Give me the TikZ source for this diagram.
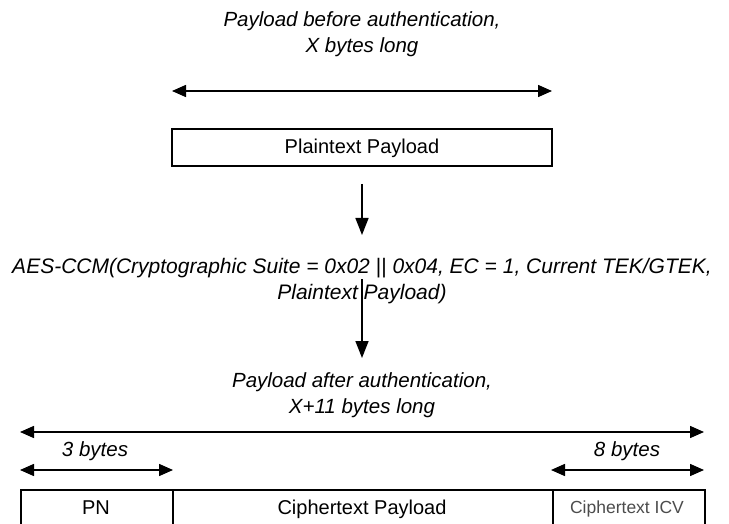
\documentclass[tikz,border=0pt]{standalone}
\usepackage{fontspec}
\setmainfont{Liberation Sans}
\usetikzlibrary{arrows.meta}
\begin{document}
\begin{tikzpicture}[x=1pt,y=-1pt,
  lbl/.style={font=\fontsize{20.5}{24}\selectfont\itshape, inner sep=0pt, anchor=base},
  boxtxt/.style={font=\fontsize{20}{24}\selectfont, inner sep=0pt, anchor=base},
  fbox/.style={draw, line width=1.6pt, inner sep=0pt},
  dimarr/.style={line width=1.5pt, {Triangle[length=14pt,width=12pt]}-{Triangle[length=14pt,width=12pt]}},
  flowarr/.style={line width=1.5pt, -{Triangle[length=17pt,width=13pt]}}]
\useasboundingbox (0,0) rectangle (729,524);
% top
\node[lbl] (t1) at (362,27) {Payload before authentication,};
\node[lbl] (t2) at (362,53) {X bytes long};
\coordinate (a1l) at (172,91);
\coordinate (a1r) at (552,91);
\draw[dimarr] (a1l) -- (a1r);
\node[fbox, minimum width=380pt, minimum height=37pt] (pp) at (362,147.5) {};
\node[boxtxt] at (362,154) {Plaintext Payload};
% middle
\node[lbl, font=\fontsize{21}{24}\selectfont\itshape] (aes1) at (362,273) {AES-CCM(Cryptographic Suite = 0x02 {\upshape||} 0x04, EC = 1, Current TEK/GTEK,};
\node[lbl, font=\fontsize{21}{24}\selectfont\itshape] (aes2) at (362,299) {Plaintext Payload)};
\coordinate (d1s) at (362,184);
\coordinate (d1e) at (362,235);
\draw[flowarr] (d1s) -- (d1e);
\coordinate (d2s) at (362,279);
\coordinate (d2e) at (362,358);
\draw[flowarr] (d2s) -- (d2e);
% bottom
\node[lbl] (b1) at (362,387) {Payload after authentication,};
\node[lbl] (b2) at (362,413) {X+11 bytes long};
\coordinate (fl) at (20,432);
\coordinate (fr) at (704,432);
\draw[dimarr] (fl) -- (fr);
\node[lbl] (three) at (95,456) {3 bytes};
\node[lbl] (eight) at (627,456) {8 bytes};
\coordinate (sl1) at (20,470);
\coordinate (sl2) at (173,470);
\draw[dimarr] (sl1) -- (sl2);
\coordinate (sr1) at (551,470);
\coordinate (sr2) at (704,470);
\draw[dimarr] (sr1) -- (sr2);
\node[fbox, minimum width=152pt, minimum height=45pt, anchor=north west] (pn) at (20,489) {};
\node[fbox, minimum width=380pt, minimum height=45pt, anchor=north west] (cp) at (172,489) {};
\node[fbox, minimum width=152pt, minimum height=45pt, anchor=north west] (icv) at (552,489) {};
\node[boxtxt] at (96,514) {PN};
\node[boxtxt] at (362,514) {Ciphertext Payload};
\node[font=\fontsize{17.5}{20}\selectfont, text=black!70, inner sep=0pt, anchor=base] at (627,513) {Ciphertext ICV};
\end{tikzpicture}
\end{document}
